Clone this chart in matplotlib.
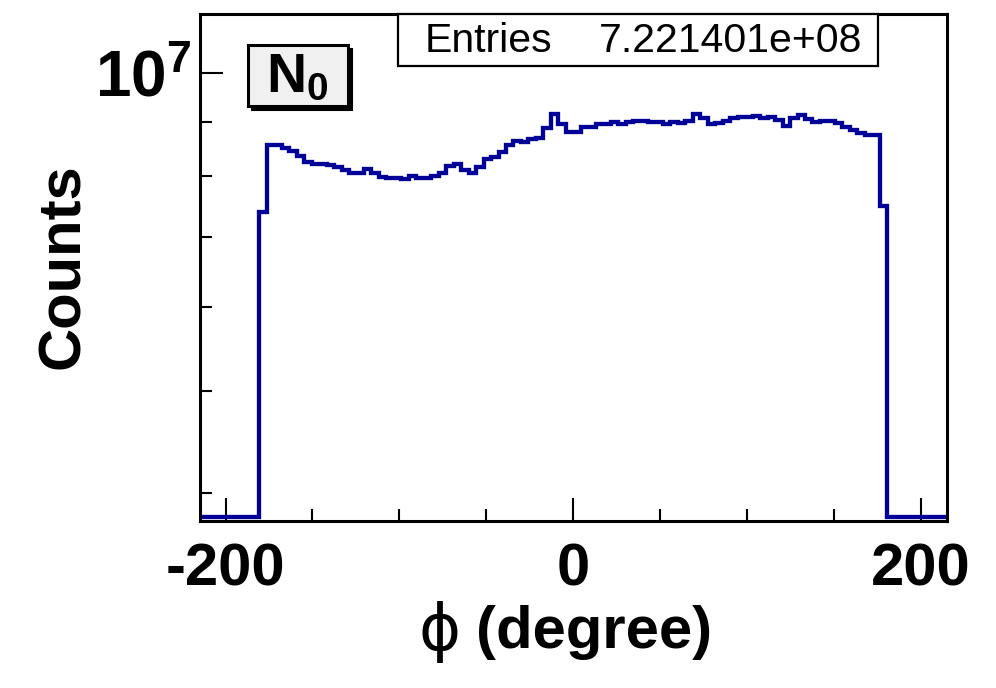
import numpy as np
import matplotlib
matplotlib.use('Agg')
import matplotlib.pyplot as plt
from matplotlib.patches import Rectangle

# histogram: 100 bins from -215 to 215 degree, counts in units of 1e6
phi_min, phi_max, n_bins = -215.0, 215.0, 100
counts_M = [0.0] * 8 + [
    7.39, 8.55, 8.55, 8.50, 8.44, 8.35, 8.24, 8.20, 8.20, 8.19,
    8.15, 8.09, 8.04, 8.04, 8.11, 8.04, 7.98, 7.96, 7.96, 7.94,
    7.99, 7.96, 7.96, 7.99, 8.05, 8.17, 8.20, 8.09, 8.05, 8.15,
    8.29, 8.33, 8.43, 8.55, 8.63, 8.61, 8.66, 8.69, 8.87, 9.16,
    8.95, 8.80, 8.80, 8.90, 8.90, 8.95, 8.95, 8.99, 8.96, 9.00,
    9.02, 9.02, 8.99, 8.99, 8.95, 8.99, 8.97, 9.01, 9.16, 9.07,
    8.95, 8.97, 9.01, 9.07, 9.09, 9.09, 9.12, 9.07, 9.10, 9.04,
    8.92, 9.07, 9.13, 9.05, 8.99, 9.01, 9.01, 8.97, 8.90, 8.83,
    8.78, 8.75, 8.75, 7.49,
] + [0.0] * 8
entries_text = '7.221401e+08'

y_lo, y_hi = 3.765e6, 1.1386e7
line_col = '#000099'
bold = {'family': 'Liberation Sans', 'weight': 'bold'}

plt.rcParams['font.family'] = ['Liberation Sans', 'DejaVu Sans']
plt.rcParams['mathtext.fontset'] = 'custom'
plt.rcParams['mathtext.rm'] = 'Liberation Sans:bold'
plt.rcParams['mathtext.bf'] = 'Liberation Sans:bold'


def px_x(x):
    return x / 996.0


def px_y(y):
    return 1.0 - y / 688.0


def main():
    fig = plt.figure(figsize=(9.96, 6.88), dpi=100)
    ax = fig.add_axes([px_x(199.5), px_y(520.5), px_x(947) - px_x(199.5), px_y(14) - px_y(520.5)])

    edges = np.linspace(phi_min, phi_max, n_bins + 1)
    counts = np.array(counts_M) * 1e6
    # empty bins drawn just on top of the lower frame, like ROOT does
    counts = np.where(counts > 0, counts, y_lo * 1.007)
    ax.stairs(counts, edges, baseline=None, color=line_col, lw=3.1, zorder=2)

    ax.set_yscale('log')
    ax.set_xlim(phi_min, phi_max)
    ax.set_ylim(y_lo, y_hi)

    ax.set_xticks([-200, 0, 200])
    ax.set_xticklabels(['-200', '0', '200'])
    ax.set_xticks([-150, -100, -50, 50, 100, 150], minor=True)
    ax.set_yticks([1e7])
    ax.set_yticklabels([r'$\mathbf{10^{7}}$'])
    ax.set_yticks([4e6, 5e6, 6e6, 7e6, 8e6, 9e6], minor=True)
    ax.set_yticklabels([], minor=True)

    ax.tick_params(which='both', direction='in', top=False, right=False, width=1.5, color='black')
    ax.tick_params(which='major', length=16.5)
    ax.tick_params(which='minor', length=8.3)
    ax.tick_params(axis='x', which='major', pad=16, labelsize=43)
    ax.tick_params(axis='y', which='major', pad=6, labelsize=46)
    for lab in ax.get_xticklabels():
        lab.set_fontweight('bold')
    for sp in ax.spines.values():
        sp.set_linewidth(2.2)
        sp.set_zorder(3)

    fig.text(px_x(64), px_y(266.5), 'Counts', rotation=90, ha='center', va='center',
             fontsize=43, **bold)
    # phi comes from the symbol font in ROOT, so not bold
    fig.text(px_x(440), px_y(632), '\u03d5', ha='center', va='center',
             fontsize=46, family='DejaVu Sans', weight='normal')
    fig.text(px_x(476), px_y(632), '(degree)', ha='left', va='center',
             fontsize=43, **bold)

    # stats box
    fig.patches.append(Rectangle((px_x(398), px_y(66)), px_x(878) - px_x(398), px_y(14) - px_y(66),
                                 transform=fig.transFigure, facecolor='white', edgecolor='black',
                                 lw=1.6, zorder=5))
    fig.text(px_x(425), px_y(41), 'Entries', ha='left', va='center', fontsize=29.5, zorder=6)
    fig.text(px_x(862), px_y(41), entries_text, ha='right', va='center', fontsize=29.5, zorder=6)

    # N0 label box with shadow
    fig.patches.append(Rectangle((px_x(252), px_y(110)), px_x(352) - px_x(252), px_y(49) - px_y(110),
                                 transform=fig.transFigure, facecolor='black', edgecolor='black',
                                 lw=1.5, zorder=5))
    fig.patches.append(Rectangle((px_x(248), px_y(106)), px_x(348) - px_x(248), px_y(45) - px_y(106),
                                 transform=fig.transFigure, facecolor='#f0f0f0', edgecolor='black',
                                 lw=2.2, zorder=6))
    fig.text(px_x(297), px_y(78), r'$\mathbf{N_{0}}$', ha='center', va='center', fontsize=40, zorder=7)

    fig.savefig('out.png', dpi=100)


if __name__ == '__main__':
    main()
